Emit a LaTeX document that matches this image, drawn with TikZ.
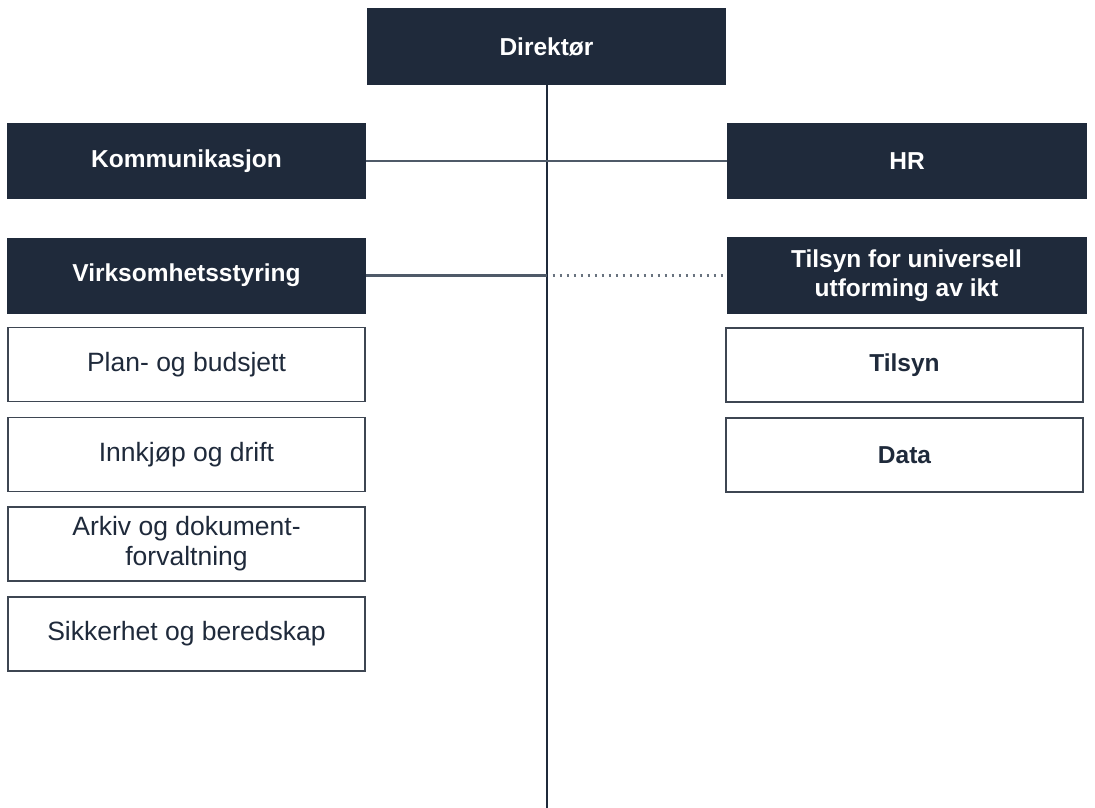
\documentclass[tikz,border=0pt]{standalone}
\usepackage{fontspec}
\setmainfont{Liberation Sans}
\definecolor{navy}{HTML}{1F2A3B}
\definecolor{edge}{HTML}{3E4652}
\definecolor{conn}{HTML}{4F5A68}
\begin{document}
\begin{tikzpicture}[x=1pt,y=-1pt,
  darkbox/.style={rectangle,fill=navy,draw=none,text=white,font=\fontsize{24.5}{29}\selectfont\bfseries,
    minimum width=359pt,minimum height=76pt,align=center,inner sep=0pt},
  whitebox/.style={rectangle,fill=white,draw=edge,line width=1.6pt,text=navy,
    font=\fontsize{26.5}{30}\selectfont,minimum width=357pt,minimum height=74pt,align=center,inner sep=0pt},
  boldwhite/.style={whitebox,font=\fontsize{24.5}{29}\selectfont\bfseries},
  spine/.style={draw=navy,line width=2pt},
  branch/.style={draw=conn,line width=2.2pt},
  dotline/.style={draw=conn!85,line width=2.2pt,dash pattern=on 2.2pt off 4.8pt}]
\useasboundingbox (0,0) rectangle (1095,808);
\fill[white] (0,0) rectangle (1095,808);
% spine
\coordinate (bottom) at (546.5,808);
\coordinate (vjoin) at (546.5,275.5);
\node[darkbox,minimum height=77pt] (dir) at (546.5,46.5) {Direktør};
\draw[spine] (dir.south) -- (bottom);
% nodes
\node[darkbox] (kom) at (186.5,161) {Kommunikasjon};
\node[darkbox,minimum width=360pt] (hr) at (907,161) {HR};
\node[darkbox] (virk) at (186.5,275.5) {Virksomhetsstyring};
\node[darkbox,minimum width=360pt,minimum height=77pt] (tuu) at (906.5,275.5) {Tilsyn for universell\\utforming av ikt};
\node[boldwhite] (tilsyn) at (904.5,365) {Tilsyn};
\node[boldwhite] (data) at (904.5,455) {Data};
\node[whitebox] (plan) at (186.5,364.5) {Plan- og budsjett};
\node[whitebox] (innk) at (186.5,454.5) {Innkjøp og drift};
\node[whitebox] (arkiv) at (186.5,544) {Arkiv og dokument-\\forvaltning};
\node[whitebox] (sikk) at (186.5,634) {Sikkerhet og beredskap};
% connectors
\draw[branch] (kom.east) -- (hr.west);
\draw[branch] (virk.east) -- (vjoin);
\draw[dotline] ([xshift=6pt]vjoin) -- (tuu.west);
\end{tikzpicture}
\end{document}
